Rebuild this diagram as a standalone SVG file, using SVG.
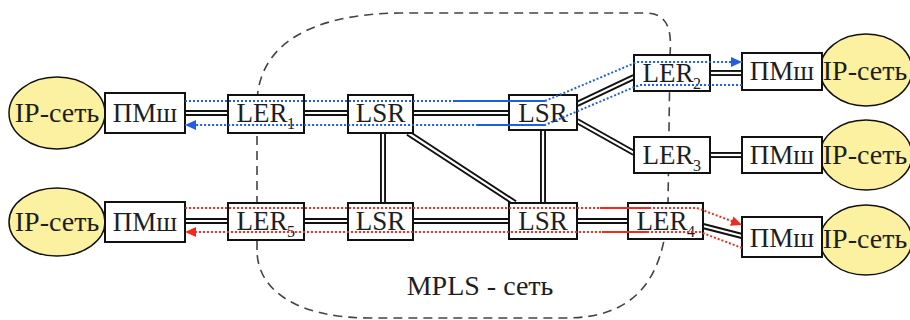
<svg xmlns="http://www.w3.org/2000/svg" width="910" height="320" viewBox="0 0 910 320">
  <style>
    .lbl { font-size: 27px; text-anchor: middle; fill: #1e1e1e; }
    .net-lbl { font-size: 28px; text-anchor: middle; fill: #1e1e1e; }
    .sub { font-size: 16px; fill: #1e1e1e; }
    .box { fill: #ffffff; stroke: #111; stroke-width: 2; }
    .net { fill: #fbf1a0; stroke: #111; stroke-width: 1.5; }
    .wire-outer { fill: none; stroke: #111; stroke-width: 6; }
    .wire-inner { fill: none; stroke: #ffffff; stroke-width: 2.2; }
    .domain { fill: none; stroke: #444; stroke-width: 1.6; stroke-dasharray: 9 6; }
    .lsp-blue { fill: none; stroke: #1f5fe0; stroke-width: 2; stroke-dasharray: 2 2; }
    .lsp-red { fill: none; stroke: #f02a1c; stroke-width: 2; stroke-dasharray: 2 2; }
    .solid-blue { fill: none; stroke: #1f5fe0; stroke-width: 2; }
    .solid-red { fill: none; stroke: #f02a1c; stroke-width: 2; }
  </style>
  <defs>
    <marker id="arrBlue" markerUnits="userSpaceOnUse" markerWidth="12" markerHeight="10" refX="11" refY="5" orient="auto">
      <path d="M0,0 L11,5 L0,10 Z" fill="#1f5fe0"/>
    </marker>
    <marker id="arrRed" markerUnits="userSpaceOnUse" markerWidth="12" markerHeight="10" refX="11" refY="5" orient="auto">
      <path d="M0,0 L11,5 L0,10 Z" fill="#f02a1c"/>
    </marker>
    <!-- physical links (double line) -->
    <path id="w1" d="M185,113 H228"/>
    <path id="w2" d="M304,113 H348"/>
    <path id="w3" d="M413,113 H509"/>
    <path id="w4" d="M577,104 L634,77"/>
    <path id="w5" d="M577,121 L634,153"/>
    <path id="w6" d="M710,73 H742"/>
    <path id="w7" d="M710,155 H742"/>
    <path id="w8" d="M383,133 V203"/>
    <path id="w9" d="M408,133 L515,203"/>
    <path id="w10" d="M543,130 V203"/>
    <path id="w11" d="M185,221 H228"/>
    <path id="w12" d="M304,221 H348"/>
    <path id="w13" d="M413,221 H509"/>
    <path id="w14" d="M577,221 H628"/>
    <path id="w15" d="M703,226 L742,236"/>
  </defs>

  <!-- MPLS domain boundary -->
  <path class="domain" d="M257,250 V105 C257,45 310,14 400,13 L645,13 C668,13 672,30 670,55 L668,205 C665,285 630,318 565,318 L370,318 C300,318 257,292 257,250 Z"/>
  <text class="net-lbl" font-family="Liberation Serif" x="480" y="295">MPLS - сеть</text>

  <!-- links -->
  <g id="connectors">
    <g class="wire-outer">
      <use href="#w1"/><use href="#w2"/><use href="#w3"/><use href="#w4"/><use href="#w5"/>
      <use href="#w6"/><use href="#w7"/><use href="#w8"/><use href="#w9"/><use href="#w10"/>
      <use href="#w11"/><use href="#w12"/><use href="#w13"/><use href="#w14"/><use href="#w15"/>
    </g>
    <g class="wire-inner">
      <use href="#w1"/><use href="#w2"/><use href="#w3"/><use href="#w4"/><use href="#w5"/>
      <use href="#w6"/><use href="#w7"/><use href="#w8"/><use href="#w9"/><use href="#w10"/>
      <use href="#w11"/><use href="#w12"/><use href="#w13"/><use href="#w14"/><use href="#w15"/>
    </g>
  </g>

  <!-- IP networks -->
  <g id="ip-left-top"><ellipse class="net" cx="57" cy="113" rx="48" ry="36"/><text class="net-lbl" font-family="Liberation Serif" x="57" y="122">IP-сеть</text></g>
  <g id="ip-left-bottom"><ellipse class="net" cx="57" cy="222" rx="48" ry="34"/><text class="net-lbl" font-family="Liberation Serif" x="57" y="231">IP-сеть</text></g>
  <g id="ip-right-top"><ellipse class="net" cx="866" cy="70" rx="46" ry="36"/><text class="net-lbl" font-family="Liberation Serif" x="865" y="80">IP-сеть</text></g>
  <g id="ip-right-mid"><ellipse class="net" cx="866" cy="155" rx="46" ry="35"/><text class="net-lbl" font-family="Liberation Serif" x="865" y="164">IP-сеть</text></g>
  <g id="ip-right-bottom"><ellipse class="net" cx="866" cy="240" rx="46" ry="35"/><text class="net-lbl" font-family="Liberation Serif" x="865" y="248">IP-сеть</text></g>

  <!-- interface converters -->
  <g id="pmsh-left-top"><rect class="box" x="105" y="93" width="80" height="40"/><text class="lbl" font-family="Liberation Serif" x="145" y="122">ПМш</text></g>
  <g id="pmsh-left-bottom"><rect class="box" x="105" y="202" width="80" height="40"/><text class="lbl" font-family="Liberation Serif" x="145" y="231">ПМш</text></g>
  <g id="pmsh-right-top"><rect class="box" x="742" y="53" width="80" height="37"/><text class="lbl" font-family="Liberation Serif" x="782" y="80">ПМш</text></g>
  <g id="pmsh-right-mid"><rect class="box" x="742" y="137" width="80" height="36"/><text class="lbl" font-family="Liberation Serif" x="782" y="164">ПМш</text></g>
  <g id="pmsh-right-bottom"><rect class="box" x="742" y="217" width="80" height="40"/><text class="lbl" font-family="Liberation Serif" x="782" y="247">ПМш</text></g>

  <!-- edge routers -->
  <g id="ler1"><rect class="box" x="228" y="95" width="76" height="38"/><text class="lbl" font-family="Liberation Serif" x="262" y="122">LER</text><text class="sub" font-family="Liberation Serif" x="287" y="129">1</text></g>
  <g id="ler2"><rect class="box" x="634" y="55" width="76" height="36"/><text class="lbl" font-family="Liberation Serif" x="668" y="82">LER</text><text class="sub" font-family="Liberation Serif" x="693" y="89">2</text></g>
  <g id="ler3"><rect class="box" x="634" y="137" width="76" height="36"/><text class="lbl" font-family="Liberation Serif" x="668" y="164">LER</text><text class="sub" font-family="Liberation Serif" x="693" y="171">3</text></g>
  <g id="ler4"><rect class="box" x="628" y="203" width="75" height="36"/><text class="lbl" font-family="Liberation Serif" x="662" y="230">LER</text><text class="sub" font-family="Liberation Serif" x="687" y="237">4</text></g>
  <g id="ler5"><rect class="box" x="228" y="203" width="76" height="37"/><text class="lbl" font-family="Liberation Serif" x="262" y="230">LER</text><text class="sub" font-family="Liberation Serif" x="287" y="237">5</text></g>

  <!-- core switching routers -->
  <g id="lsr1"><rect class="box" x="348" y="95" width="65" height="38"/><text class="lbl" font-family="Liberation Serif" x="380.5" y="122">LSR</text></g>
  <g id="lsr2"><rect class="box" x="509" y="95" width="68" height="35"/><text class="lbl" font-family="Liberation Serif" x="543" y="122">LSR</text></g>
  <g id="lsr3"><rect class="box" x="348" y="203" width="65" height="37"/><text class="lbl" font-family="Liberation Serif" x="380.5" y="230">LSR</text></g>
  <g id="lsr4"><rect class="box" x="509" y="203" width="68" height="36"/><text class="lbl" font-family="Liberation Serif" x="543" y="230">LSR</text></g>

  <!-- label switched paths -->
  <g id="lsp">
    <path class="lsp-blue" d="M185,101 H545 L637,62 H742" marker-end="url(#arrBlue)"/>
    <path class="lsp-blue" d="M742,85 H640 L632,88 L545,125 H185" marker-end="url(#arrBlue)"/>
    <path class="solid-blue" d="M455,101 H545"/>
    <path class="solid-blue" d="M478,125 H545"/>
    <path class="lsp-red" d="M185,208 H697 L742,225" marker-end="url(#arrRed)"/>
    <path class="lsp-red" d="M742,248 L700,232 H185" marker-end="url(#arrRed)"/>
    <path class="solid-red" d="M600,208 H650"/>
    <path class="solid-red" d="M602,232 H648"/>
  </g>
</svg>
